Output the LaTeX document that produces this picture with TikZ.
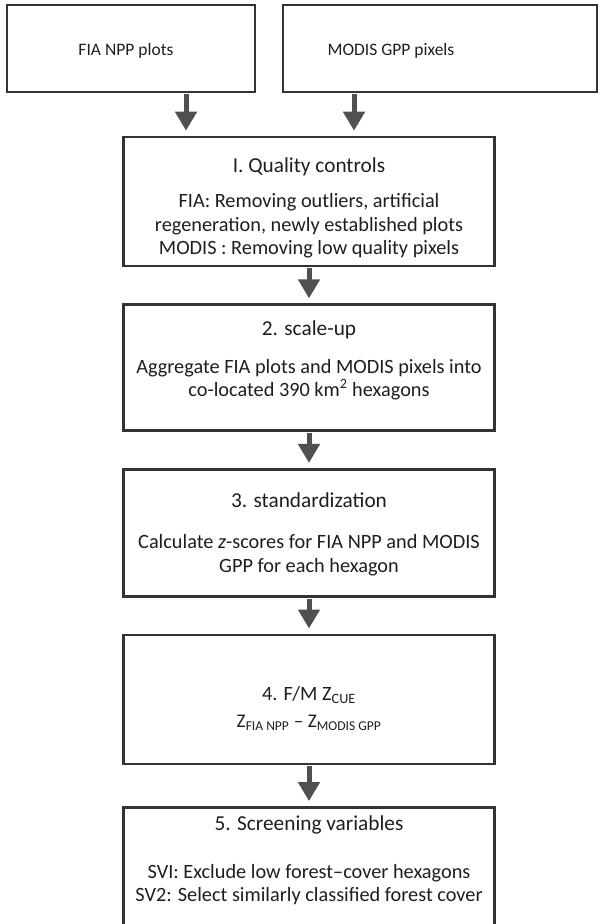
\documentclass[tikz,border=0pt]{standalone}
\usepackage{fontspec}
\setmainfont{Carlito}
\usepackage{tikz}
\usetikzlibrary{arrows.meta,positioning}
\definecolor{flowline}{HTML}{333333}
\definecolor{flowarrow}{HTML}{505050}
\definecolor{flowtext}{HTML}{1E1E1E}
\newcommand{\steptitle}[1]{{\fontsize{21.3}{23.5}\selectfont #1}}

\begin{document}
\begin{tikzpicture}[
  x=1pt, y=-1pt,
  node distance=36pt,
  every node/.style={text=flowtext},
  source/.style={draw=flowline, line width=2.6pt, minimum height=87pt},
  sourcetext/.style={font=\fontsize{17.5}{20}\selectfont},
  stepbox/.style={draw=flowline, line width=2.6pt, minimum width=371pt},
  steptext/.style={align=center, font=\fontsize{20.3}{23.5}\selectfont},
  arrow/.style={-{Triangle[width=21pt,length=19pt]}, line width=5pt,
                draw=flowarrow, shorten <=1pt, shorten >=5pt}
]
\useasboundingbox (0,0) rectangle (604,924);

% input data
\node[source, minimum width=248pt,
      label={[sourcetext, xshift=-5pt, yshift=-2pt]center:FIA NPP plots}]
      (fia) at (131,48.5) {};
\node[source, minimum width=314pt,
      label={[sourcetext, xshift=-49pt, yshift=-2pt]center:MODIS GPP pixels}]
      (modis) at (440,48.5) {};

% processing steps
\node[stepbox, minimum height=129pt] (quality) at (309,201.5) {};
\node[stepbox, minimum height=126pt, below=of quality] (scaleup) {};
\node[stepbox, minimum height=127pt, below=of scaleup] (standard) {};
\node[stepbox, minimum height=129pt, below=of standard] (zcue) {};
\node[stepbox, minimum height=124pt, below=41pt of zcue] (screen) {};

\node[steptext] (quality-text) at ([yshift=-6.5pt]quality.center)
  {\steptitle{I. Quality controls}\\[11.5pt]
   FIA: Removing outliers, artificial\\
   regeneration, newly established plots\\
   MODIS : Removing low quality pixels};
\node[steptext] (scaleup-text) at ([yshift=7.5pt]scaleup.center)
  {\steptitle{2. scale-up}\\[14.5pt]
   Aggregate FIA plots and MODIS pixels into\\
   co-located 390 km\textsuperscript{2} hexagons};
\node[steptext] (standard-text) at ([yshift=-1.5pt]standard.center)
  {\steptitle{3. standardization}\\[17.5pt]
   Calculate \textit{z}-scores for FIA NPP and MODIS\\
   GPP for each hexagon};
\node[steptext] (zcue-text) at ([yshift=-9pt]zcue.center)
  {4. F/M Z\textsubscript{CUE}\\[4pt]
   {\fontsize{19.3}{23.5}\selectfont
    Z\textsubscript{FIA NPP} -- Z\textsubscript{MODIS GPP}}};
\node[steptext] (screen-text) at ([yshift=9pt]screen.center)
  {\steptitle{5. Screening variables}\\[24.5pt]
   SVI: Exclude low forest--cover hexagons\\
   SV2: Select similarly classified forest cover};

\draw[arrow] ([xshift=55pt]fia.south) -- ([xshift=-123pt]quality.north);
\draw[arrow] ([xshift=-86pt]modis.south) -- ([xshift=45pt]quality.north);
\draw[arrow] (quality) -- (scaleup);
\draw[arrow] (scaleup) -- (standard);
\draw[arrow] (standard) -- (zcue);
\draw[arrow] (zcue) -- (screen);
\end{tikzpicture}
\end{document}
